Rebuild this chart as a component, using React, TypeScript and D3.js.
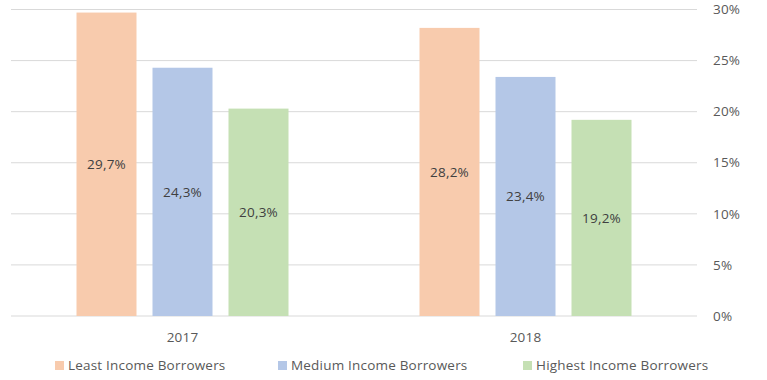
import React from "react";
import * as d3 from "d3";

const years = ["2017", "2018"];
const seriesNames = ["Least Income Borrowers", "Medium Income Borrowers", "Highest Income Borrowers"];
const least = [29.7, 28.2];
const medium = [24.3, 23.4];
const highest = [20.3, 19.2];
const yTicks = [0, 5, 10, 15, 20, 25, 30];
const colors = ["#F8CBAD", "#B4C7E7", "#C5E0B4"];

const W = 767;
const H = 380;
const font = "'Open Sans', sans-serif";
const fs = 13.5;

export default function App() {
  const values = [least, medium, highest];
  const x0 = d3.scaleBand<string>().domain(years).range([11, 697]);
  const x1 = d3.scaleBand<string>().domain(seriesNames).range([-106, 106]).paddingInner(16 / 76).paddingOuter(0);
  const y = d3.scaleLinear().domain([0, 30]).range([316, 9.5]);
  const fmt = (v: number) => v.toFixed(1).replace(".", ",") + "%";
  const legendX = [55, 278, 523];

  return (
    <svg width={W} height={H} style={{ position: "absolute", left: 0, top: 0, background: "#fff" }}>
      {yTicks.map((t) => (
        <g key={t}>
          <line x1={11} x2={697} y1={y(t)} y2={y(t)} stroke="#D9D9D9" strokeWidth={1} />
          <text x={713} y={y(t)} dy="0.35em" fontFamily={font} fontSize={fs} fill="#595959" letterSpacing={0.2}>
            {t}%
          </text>
        </g>
      ))}
      {years.map((yr, i) => (
        <g key={yr} transform={`translate(${(x0(yr) as number) + x0.bandwidth() / 2},0)`}>
          {seriesNames.map((s, j) => {
            const v = values[j][i];
            const bx = x1(s) as number;
            return (
              <g key={s}>
                <rect x={bx} y={y(v)} width={x1.bandwidth()} height={y(0) - y(v)} fill={colors[j]} />
                <text x={bx + x1.bandwidth() / 2} y={(y(v) + y(0)) / 2} dy="0.35em" textAnchor="middle" fontFamily={font} fontSize={fs} fill="#404040" letterSpacing={0.2}>
                  {fmt(v)}
                </text>
              </g>
            );
          })}
          <text x={0} y={337} dy="0.35em" textAnchor="middle" fontFamily={font} fontSize={fs} fill="#595959" letterSpacing={0.2}>
            {yr}
          </text>
        </g>
      ))}
      {seriesNames.map((s, j) => (
        <g key={s} transform={`translate(${legendX[j]},0)`}>
          <rect x={0} y={361} width={9} height={9} fill={colors[j]} />
          <text x={13} y={365.5} dy="0.35em" fontFamily={font} fontSize={fs} fill="#595959" letterSpacing={0.2}>
            {s}
          </text>
        </g>
      ))}
    </svg>
  );
}
